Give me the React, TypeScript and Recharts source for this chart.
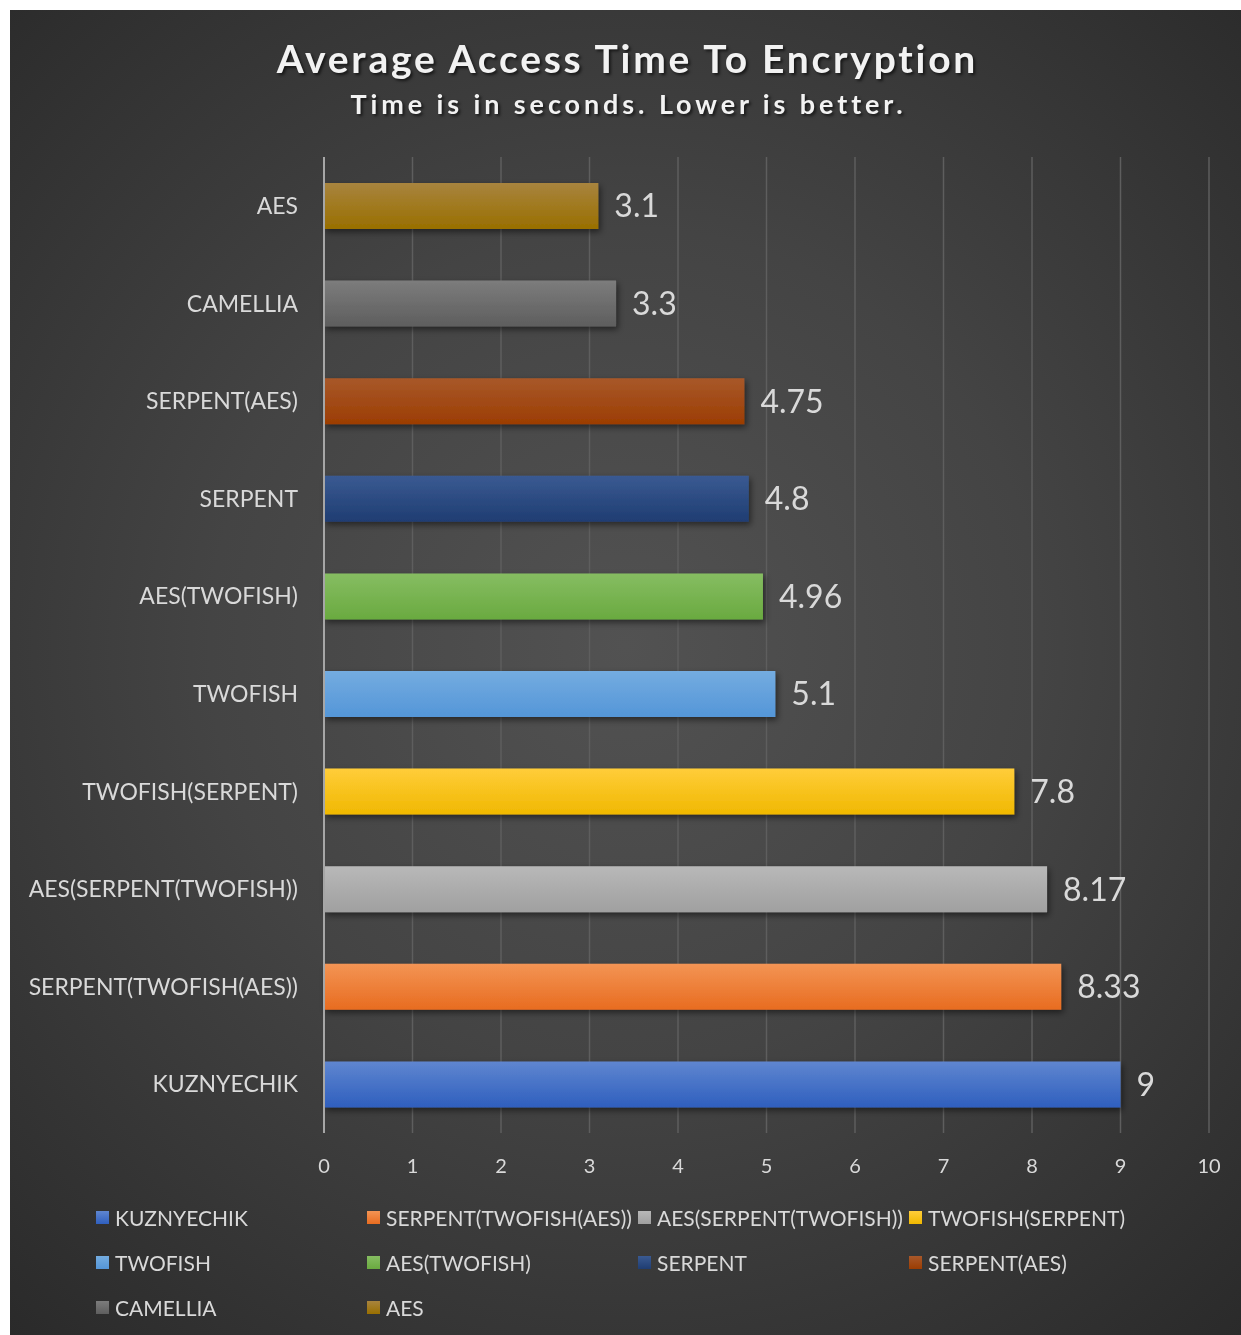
import React from "react";
import { BarChart, Bar, XAxis, YAxis, CartesianGrid, Cell, LabelList, Legend } from "recharts";

const categories = [
  "AES",
  "CAMELLIA",
  "SERPENT(AES)",
  "SERPENT",
  "AES(TWOFISH)",
  "TWOFISH",
  "TWOFISH(SERPENT)",
  "AES(SERPENT(TWOFISH))",
  "SERPENT(TWOFISH(AES))",
  "KUZNYECHIK",
];
const times = [3.1, 3.3, 4.75, 4.8, 4.96, 5.1, 7.8, 8.17, 8.33, 9];
const topColors = ["#a8843e", "#7c7c7c", "#a8582a", "#3a5a92", "#86bd62", "#74ace0", "#ffcd3a", "#b8b8b8", "#f39454", "#5f86d0"];
const bottomColors = ["#996f00", "#5e5e5e", "#9c3d02", "#1f3d72", "#6aaa40", "#5496d8", "#f0b800", "#a0a0a0", "#e86c20", "#2f5fbe"];
const legendOrder = [
  "KUZNYECHIK",
  "SERPENT(TWOFISH(AES))",
  "AES(SERPENT(TWOFISH))",
  "TWOFISH(SERPENT)",
  "TWOFISH",
  "AES(TWOFISH)",
  "SERPENT",
  "SERPENT(AES)",
  "CAMELLIA",
  "AES",
];
const xTicks = [0, 1, 2, 3, 4, 5, 6, 7, 8, 9, 10];

const data = categories.map((name, i) => ({ name, value: times[i] }));

const FONT = "Lato, 'Open Sans', sans-serif";

const LegendContent = () => (
  <div style={{ display: "grid", gridTemplateColumns: "271px 271px 271px 271px", rowGap: 0, fontFamily: FONT }}>
    {legendOrder.map((name) => {
      const i = categories.indexOf(name);
      return (
        <div key={name} style={{ display: "flex", alignItems: "center", height: 45, color: "#d9d9d9", fontSize: 21 }}>
          <span
            style={{
              display: "inline-block",
              width: 13,
              height: 13,
              marginRight: 6,
              background: `linear-gradient(${topColors[i]}, ${bottomColors[i]})`,
            }}
          />
          <span>{name}</span>
        </div>
      );
    })}
  </div>
);

export default function App() {
  return (
    <div
      style={{
        position: "fixed",
        left: 10,
        top: 10,
        width: 1231,
        height: 1325,
        background: "radial-gradient(ellipse 75% 70% at 50% 48%, #525252 0%, #444444 45%, #2a2a2a 100%)",
        fontFamily: FONT,
      }}
    >
      <div
        style={{
          position: "absolute",
          top: 25,
          left: 2,
          width: 1231,
          textAlign: "center",
          color: "#f2f2f2",
          fontSize: 39,
          fontWeight: 700,
          letterSpacing: 2.75,
          textShadow: "2px 2px 3px rgba(0,0,0,0.6)",
        }}
      >
        Average Access Time To Encryption
      </div>
      <div
        style={{
          position: "absolute",
          top: 77,
          left: 3,
          width: 1231,
          textAlign: "center",
          color: "#f2f2f2",
          fontSize: 27,
          fontWeight: 700,
          letterSpacing: 3.9,
          textShadow: "2px 2px 3px rgba(0,0,0,0.6)",
        }}
      >
        Time is in seconds. Lower is better.
      </div>
      <BarChart
        width={1231}
        height={1325}
        data={data}
        layout="vertical"
        margin={{ top: 147, right: 32, bottom: 27, left: 0 }}
        style={{ position: "absolute", top: 0, left: 0 }}
      >
        <defs>
          {categories.map((c, i) => (
            <linearGradient key={c} id={`g${i}`} x1="0" y1="0" x2="0" y2="1">
              <stop offset="0%" stopColor={topColors[i]} />
              <stop offset="100%" stopColor={bottomColors[i]} />
            </linearGradient>
          ))}
          <filter id="shadow" x="-5%" y="-30%" width="115%" height="170%">
            <feDropShadow dx="2" dy="3" stdDeviation="3" floodColor="#000" floodOpacity="0.5" />
          </filter>
        </defs>
        <CartesianGrid horizontal={false} stroke="#5e5e5e" strokeWidth={1.5} />
        <XAxis
          type="number"
          domain={[0, 10]}
          ticks={xTicks}
          axisLine={false}
          tickLine={false}
          tickMargin={20}
          height={40}
          tick={{ fill: "#d9d9d9", fontSize: 20, fontFamily: FONT }}
        />
        <YAxis
          type="category"
          dataKey="name"
          width={314}
          axisLine={{ stroke: "#a6a6a6", strokeWidth: 2 }}
          tickLine={false}
          tickMargin={20}
          interval={0}
          tick={{ fill: "#d9d9d9", fontSize: 23, fontFamily: FONT }}
        />
        <Legend
          verticalAlign="bottom"
          content={<LegendContent />}
          wrapperStyle={{ left: 86, top: 1185, width: 1100, bottom: "auto" }}
        />
        <Bar dataKey="value" barSize={46} isAnimationActive={false} filter="url(#shadow)">
          {data.map((d, i) => (
            <Cell key={d.name} fill={`url(#g${i})`} />
          ))}
          <LabelList
            dataKey="value"
            position="right"
            offset={16}
            fill="#d9d9d9"
            fontSize={32}
            fontFamily={FONT}
          />
        </Bar>
      </BarChart>
    </div>
  );
}
